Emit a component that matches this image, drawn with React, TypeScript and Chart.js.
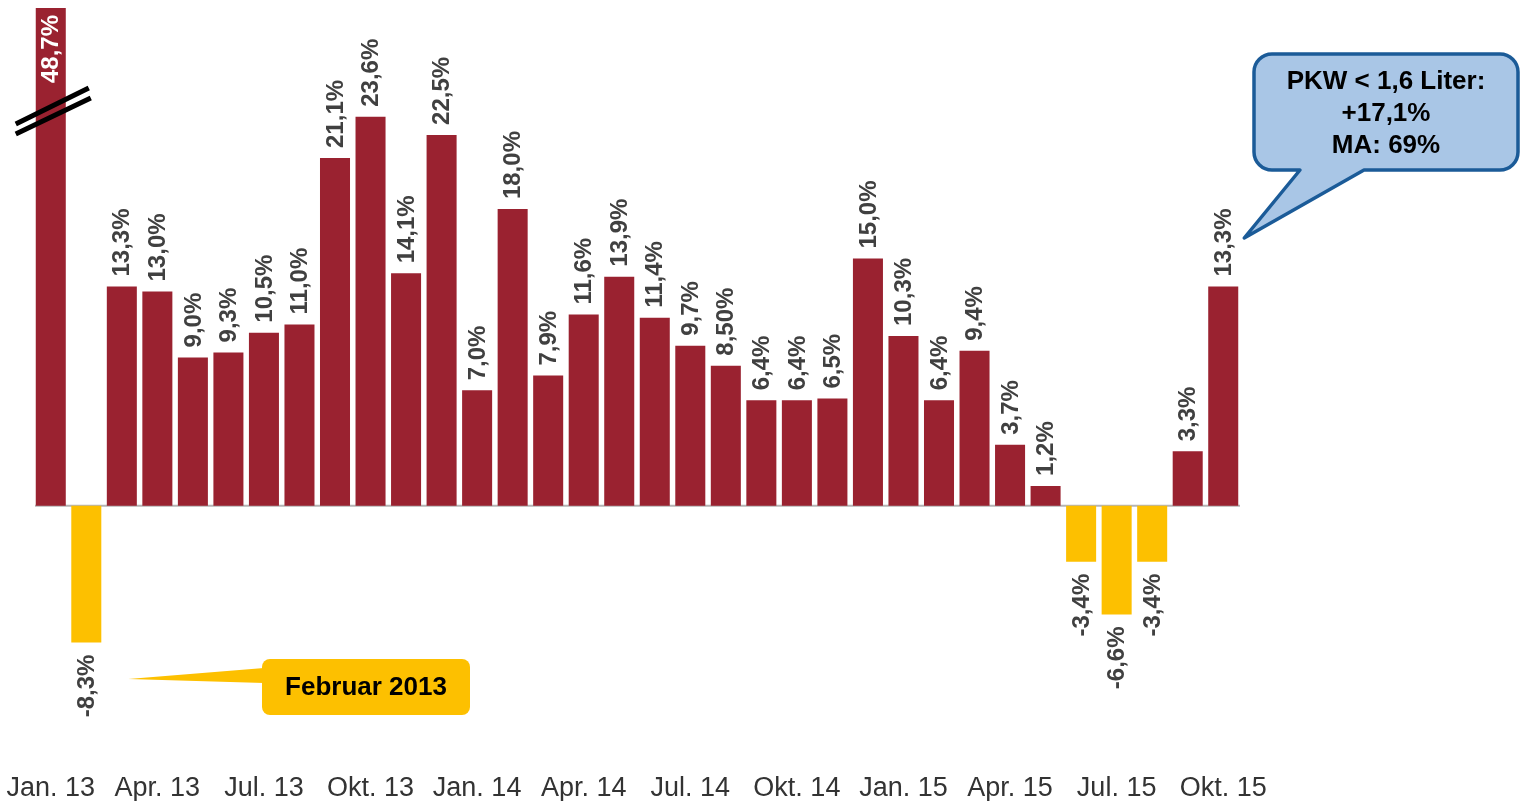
import React, { useEffect, useRef } from "react";
import { Chart, registerables } from "chart.js";

Chart.register(...registerables);

const months = [
  "Jan. 13", "Feb. 13", "Mär. 13", "Apr. 13", "Mai 13", "Jun. 13", "Jul. 13", "Aug. 13", "Sep. 13", "Okt. 13", "Nov. 13", "Dez. 13",
  "Jan. 14", "Feb. 14", "Mär. 14", "Apr. 14", "Mai 14", "Jun. 14", "Jul. 14", "Aug. 14", "Sep. 14", "Okt. 14", "Nov. 14", "Dez. 14",
  "Jan. 15", "Feb. 15", "Mär. 15", "Apr. 15", "Mai 15", "Jun. 15", "Jul. 15", "Aug. 15", "Sep. 15", "Okt. 15",
];

const growth = [
  48.7, -8.3, 13.3, 13.0, 9.0, 9.3, 10.5, 11.0, 21.1, 23.6, 14.1, 22.5,
  7.0, 18.0, 7.9, 11.6, 13.9, 11.4, 9.7, 8.5, 6.4, 6.4, 6.5, 15.0,
  10.3, 6.4, 9.4, 3.7, 1.2, -3.4, -6.6, -3.4, 3.3, 13.3,
];

const valueLabels = [
  "48,7%", "-8,3%", "13,3%", "13,0%", "9,0%", "9,3%", "10,5%", "11,0%", "21,1%", "23,6%", "14,1%", "22,5%",
  "7,0%", "18,0%", "7,9%", "11,6%", "13,9%", "11,4%", "9,7%", "8,50%", "6,4%", "6,4%", "6,5%", "15,0%",
  "10,3%", "6,4%", "9,4%", "3,7%", "1,2%", "-3,4%", "-6,6%", "-3,4%", "3,3%", "13,3%",
];

const calloutLines = ["PKW < 1,6 Liter:", "+17,1%", "MA: 69%"];
const febNote = "Februar 2013";

const RED = "#9a2230";
const YELLOW = "#fdc000";
const FONT = "'Liberation Sans', Arial, sans-serif";

function roundRect(ctx: CanvasRenderingContext2D, x: number, y: number, w: number, h: number, r: number) {
  ctx.moveTo(x + r, y);
  ctx.lineTo(x + w - r, y);
  ctx.arcTo(x + w, y, x + w, y + r, r);
  ctx.lineTo(x + w, y + h - r);
  ctx.arcTo(x + w, y + h, x + w - r, y + h, r);
  ctx.lineTo(x + r, y + h);
  ctx.arcTo(x, y + h, x, y + h - r, r);
  ctx.lineTo(x, y + r);
  ctx.arcTo(x, y, x + r, y, r);
}

const decorPlugin = {
  id: "decor",
  beforeDatasetsDraw(chart: any) {
    const ctx = chart.ctx;
    const y0 = chart.scales.y.getPixelForValue(0);
    ctx.save();
    ctx.strokeStyle = "#b4b4b4";
    ctx.lineWidth = 2;
    ctx.beginPath();
    ctx.moveTo(chart.chartArea.left + 2, y0);
    ctx.lineTo(chart.chartArea.right - 1, y0);
    ctx.stroke();
    ctx.restore();
  },
  afterDatasetsDraw(chart: any) {
    const ctx = chart.ctx;
    const meta = chart.getDatasetMeta(0);
    const area = chart.chartArea;
    ctx.save();
    ctx.font = `bold 24px ${FONT}`;
    ctx.textBaseline = "middle";
    meta.data.forEach((bar: any, i: number) => {
      const v = growth[i];
      const txt = valueLabels[i];
      ctx.save();
      if (bar.y < area.top) {
        ctx.translate(bar.x, area.top + 7);
        ctx.rotate(-Math.PI / 2);
        ctx.textAlign = "right";
        ctx.fillStyle = "#ffffff";
        ctx.fillText(txt, 0, 1);
      } else if (v >= 0) {
        ctx.translate(bar.x, bar.y - 10);
        ctx.rotate(-Math.PI / 2);
        ctx.textAlign = "left";
        ctx.fillStyle = "#404040";
        ctx.fillText(txt, 0, 1);
      } else {
        ctx.translate(bar.x, bar.y + 12);
        ctx.rotate(-Math.PI / 2);
        ctx.textAlign = "right";
        ctx.fillStyle = "#404040";
        ctx.fillText(txt, 0, 1);
      }
      ctx.restore();
    });
    ctx.restore();

    // axis break marks on the first bar
    const b0 = meta.data[0];
    ctx.save();
    ctx.strokeStyle = "#000000";
    ctx.lineWidth = 5;
    ctx.beginPath();
    ctx.moveTo(b0.x - 35, 124);
    ctx.lineTo(b0.x + 38, 88);
    ctx.moveTo(b0.x - 35, 134);
    ctx.lineTo(b0.x + 40, 98);
    ctx.stroke();
    ctx.restore();
  },
  afterDraw(chart: any) {
    const ctx = chart.ctx;
    const meta = chart.getDatasetMeta(0);
    const last = meta.data[meta.data.length - 1];

    // blue callout
    ctx.save();
    ctx.beginPath();
    const bx = 1254, by = 54, bw = 264, bh = 116, r = 18;
    ctx.moveTo(bx + r, by);
    ctx.lineTo(bx + bw - r, by);
    ctx.arcTo(bx + bw, by, bx + bw, by + r, r);
    ctx.lineTo(bx + bw, by + bh - r);
    ctx.arcTo(bx + bw, by + bh, bx + bw - r, by + bh, r);
    ctx.lineTo(1364, by + bh);
    ctx.lineTo(last.x + 21, 238);
    ctx.lineTo(1300, by + bh);
    ctx.lineTo(bx + r, by + bh);
    ctx.arcTo(bx, by + bh, bx, by + bh - r, r);
    ctx.lineTo(bx, by + r);
    ctx.arcTo(bx, by, bx + r, by, r);
    ctx.closePath();
    ctx.fillStyle = "#a9c6e6";
    ctx.fill();
    ctx.strokeStyle = "#1b5b98";
    ctx.lineWidth = 3.5;
    ctx.lineJoin = "round";
    ctx.stroke();
    ctx.fillStyle = "#000000";
    ctx.font = `bold 26px ${FONT}`;
    ctx.textAlign = "center";
    ctx.textBaseline = "middle";
    calloutLines.forEach((line, i) => {
      ctx.fillText(line, 1386, 82 + i * 32);
    });
    ctx.restore();

    // yellow note
    const feb = meta.data[1];
    ctx.save();
    ctx.fillStyle = YELLOW;
    ctx.beginPath();
    ctx.moveTo(feb.x + 42, 679);
    ctx.lineTo(264, 668);
    ctx.lineTo(264, 683);
    ctx.closePath();
    ctx.fill();
    ctx.beginPath();
    roundRect(ctx, 262, 659, 208, 56, 8);
    ctx.closePath();
    ctx.fill();
    ctx.fillStyle = "#000000";
    ctx.font = `bold 26px ${FONT}`;
    ctx.textAlign = "center";
    ctx.textBaseline = "middle";
    ctx.fillText(febNote, 366, 688);
    ctx.restore();
  },
};

export default function App() {
  const ref = useRef<HTMLCanvasElement | null>(null);
  useEffect(() => {
    if (!ref.current) return;
    const chart = new Chart(ref.current, {
      type: "bar",
      data: {
        labels: months,
        datasets: [
          {
            data: growth,
            backgroundColor: growth.map((v) => (v < 0 ? YELLOW : RED)),
            borderWidth: 0,
            categoryPercentage: 1,
            barPercentage: 0.845,
          },
        ],
      },
      options: {
        responsive: false,
        animation: false,
        layout: { padding: { left: 33, right: 280, top: 8, bottom: -8 } },
        plugins: { legend: { display: false }, tooltip: { enabled: false } },
        scales: {
          x: {
            grid: { display: false, drawTicks: false },
            border: { display: false },
            ticks: {
              autoSkip: false,
              maxRotation: 0,
              minRotation: 0,
              padding: 6,
              color: "#333333",
              font: { family: FONT, size: 27, lineHeight: 1.1 },
              callback: (_v: any, i: number) => (i % 3 === 0 ? months[i] : ""),
            },
          },
          y: {
            display: false,
            min: -15.87,
            max: 30.2,
          },
        },
      },
      plugins: [decorPlugin],
    });
    return () => chart.destroy();
  }, []);
  return (
    <div style={{ position: "absolute", left: 0, top: 0, width: 1521, height: 801, background: "#fff" }}>
      <canvas ref={ref} width={1521} height={801} style={{ display: "block" }} />
    </div>
  );
}
